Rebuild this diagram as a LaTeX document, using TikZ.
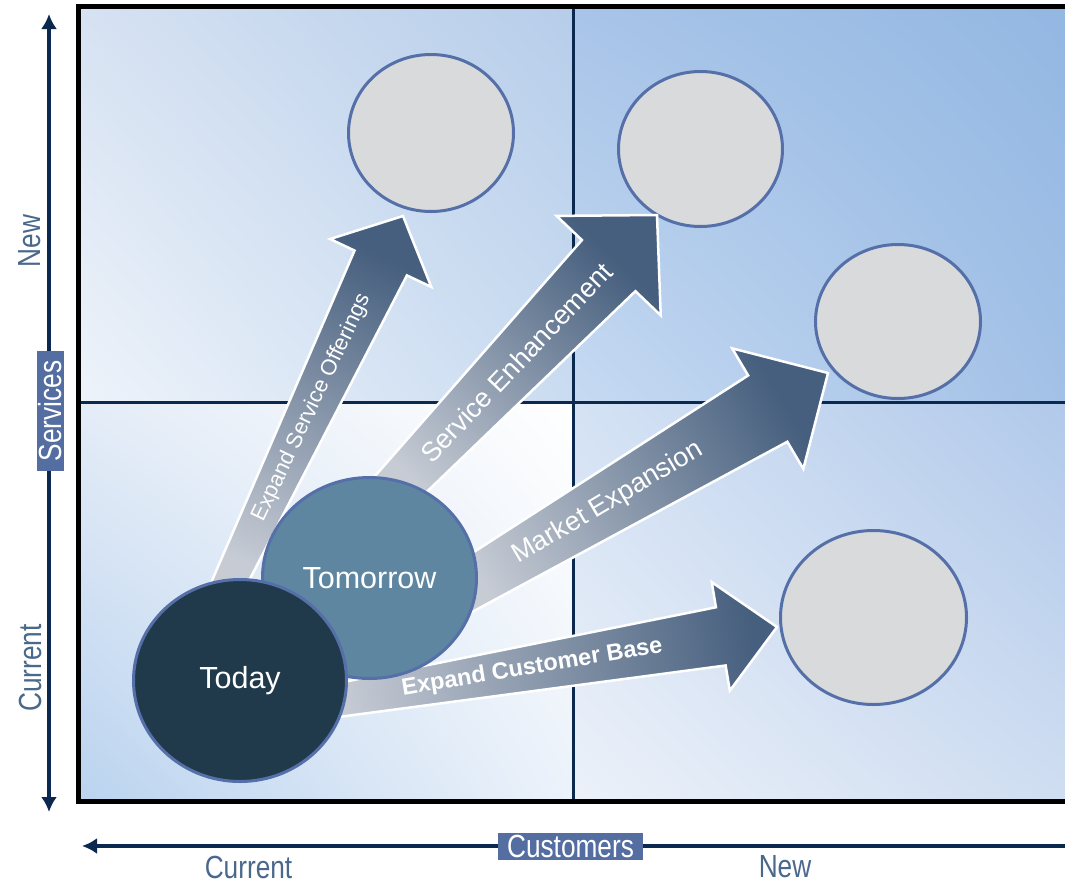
\documentclass[tikz,border=0pt]{standalone}
\usepackage{fontspec}
\setmainfont{Liberation Sans}
\newfontfamily\narrowfont[FakeStretch=0.82]{Liberation Sans}
\usetikzlibrary{positioning,calc,shadings,arrows.meta,shapes.geometric}
\tikzset{>={Latex[length=15pt,width=16pt]}}

\definecolor{navy}{RGB}{11,40,78}
\definecolor{labelblue}{RGB}{74,104,140}
\definecolor{boxblue}{RGB}{84,110,162}
\definecolor{ringblue}{RGB}{85,112,168}
\definecolor{goalgray}{RGB}{217,218,220}
\definecolor{todayfill}{RGB}{32,58,75}
\definecolor{tomorrowfill}{RGB}{94,134,160}
\definecolor{arrowlight}{RGB}{198,203,212}
\definecolor{arrowdark}{RGB}{70,95,126}
% quadrant corners
\definecolor{tlA}{RGB}{214,226,242}\definecolor{tlB}{RGB}{182,205,234}
\definecolor{tlC}{RGB}{238,243,250}\definecolor{tlD}{RGB}{202,220,241}
\definecolor{trA}{RGB}{168,196,232}\definecolor{trB}{RGB}{146,183,226}
\definecolor{trC}{RGB}{198,218,242}\definecolor{trD}{RGB}{162,192,230}
\definecolor{blA}{RGB}{228,236,247}\definecolor{blB}{RGB}{255,255,255}
\definecolor{blC}{RGB}{186,211,239}\definecolor{blD}{RGB}{236,242,250}
\definecolor{brA}{RGB}{212,226,244}\definecolor{brB}{RGB}{176,200,234}
\definecolor{brC}{RGB}{236,241,249}\definecolor{brD}{RGB}{206,221,241}

\tikzset{
  goal/.style={ellipse, draw=ringblue, line width=3pt, fill=goalgray, inner sep=0pt},
  stage/.style={ellipse, draw=ringblue, line width=3pt, inner sep=0pt, text=white,
    font=\fontsize{30.5}{34}\selectfont},
  axis/.style={navy, line width=4.5pt},
  axisbox/.style={fill=boxblue, text=white, inner xsep=9.5pt, inner ysep=0pt,
    minimum height=27pt, font=\narrowfont\fontsize{32}{36}\selectfont},
  axislabel/.style={text=labelblue, inner sep=0pt, font=\narrowfont\fontsize{32}{36}\selectfont},
  arrowlabel/.style={text=white, inner sep=0pt, sloped}
}

% tail, tip, tail half width, shaft half width, barb half width, head length, angle
\newcommand{\bigarrow}[7]{%
  \coordinate (hb) at ($(#2)!#6!(#1)$);
  \shade[top color=arrowdark, bottom color=arrowlight, shading angle={#7-90},
    draw=white, line width=2.5pt]
    ($(#1)!#3!90:(#2)$) -- ($(hb)!#4!90:(#2)$) -- ($(hb)!#5!90:(#2)$) -- (#2)
    -- ($(hb)!#5!-90:(#2)$) -- ($(hb)!#4!-90:(#2)$) -- ($(#1)!#3!-90:(#2)$) -- cycle;
}

\begin{document}
\begin{tikzpicture}[x=1pt, y=-1pt]
  \useasboundingbox (0,0) rectangle (1065,884);
  \clip (0,0) rectangle (1065,884);

  % background
  \shade[upper left=tlA, upper right=tlB, lower left=tlC, lower right=tlD] (78,6) rectangle (573,402);
  \shade[upper left=trA, upper right=trB, lower left=trC, lower right=trD] (573,6) rectangle (1080,402);
  \shade[upper left=blA, upper right=blB, lower left=blC, lower right=blD] (78,402) rectangle (573,801);
  \shade[upper left=brA, upper right=brB, lower left=brC, lower right=brD] (573,402) rectangle (1080,801);
  \draw[navy, line width=3pt] (573,6) -- (573,801);
  \draw[navy, line width=3pt] (78,402) -- (1080,402);
  \draw[line width=5pt] (78,6) rectangle (1080,801);

  % goals
  \node[goal, minimum width=165pt, minimum height=157pt] (g1) at (431,133) {};
  \node[goal, minimum width=164pt, minimum height=155pt] (g2) at (700.5,149) {};
  \node[goal, minimum width=165pt, minimum height=154pt] (g3) at (898,321.5) {};
  \node[goal, minimum width=186pt, minimum height=174pt] (g4) at (873.5,617.5) {};

  % arrows
  \coordinate (eso-tail) at (221,600);
  \coordinate (eso-tip) at (403,216);
  \coordinate (se-tail) at (381,504);
  \coordinate (se-tip) at (657,215);
  \coordinate (me-tail) at (442,601);
  \coordinate (me-tip) at (828,373);
  \coordinate (ecb-tail) at (315,704);
  \coordinate (ecb-tip) at (777,627);
  \bigarrow{eso-tail}{eso-tip}{16pt}{29pt}{56pt}{52pt}{64.6}
  \bigarrow{se-tail}{se-tip}{23pt}{37pt}{72pt}{70pt}{46.3}
  \bigarrow{me-tail}{me-tip}{24pt}{38.5pt}{70pt}{70pt}{30.6}
  \bigarrow{ecb-tail}{ecb-tip}{16pt}{29.5pt}{55pt}{57pt}{9.5}
  \path (eso-tail) -- (eso-tip) node[arrowlabel, pos=0.5, font=\fontsize{22}{25}\selectfont] {Expand Service Offerings};
  \path (se-tail) -- (se-tip) node[arrowlabel, pos=0.49, font=\fontsize{27}{30}\selectfont] {Service Enhancement};
  \path (me-tail) -- (me-tip) node[arrowlabel, pos=0.43, font=\fontsize{27}{30}\selectfont] {Market Expansion};
  \path (ecb-tail) -- (ecb-tip) node[arrowlabel, pos=0.47, font=\bfseries\fontsize{23.5}{27}\selectfont] {Expand Customer Base};

  % stages
  \node[stage, fill=tomorrowfill, minimum width=214pt, minimum height=201pt] (tomorrow) at (369.5,578) {Tomorrow};
  \node[stage, fill=todayfill, minimum width=213pt, minimum height=202pt] (today) at (240,680.5) {Today};

  % axes
  \coordinate (vtop) at (49,14);
  \coordinate (vbot) at (49,812);
  \draw[axis, <->] (vtop) -- (vbot);
  \node[axisbox, rotate=90] (services) at (50,411) {Services};
  \node[axislabel, rotate=90] (snew) at (30,241) {New};
  \node[axislabel, rotate=90] (scur) at (30,668) {Current};

  \coordinate (hright) at (1080,846);
  \coordinate (hleft) at (82,846);
  \draw[axis, ->] (hright) -- (hleft);
  \node[axisbox] (customers) at (570.5,846.5) {Customers};
  \node[axislabel] (ccur) at (248.5,867) {Current};
  \node[axislabel] (cnew) at (785,867) {New};
\end{tikzpicture}
\end{document}
